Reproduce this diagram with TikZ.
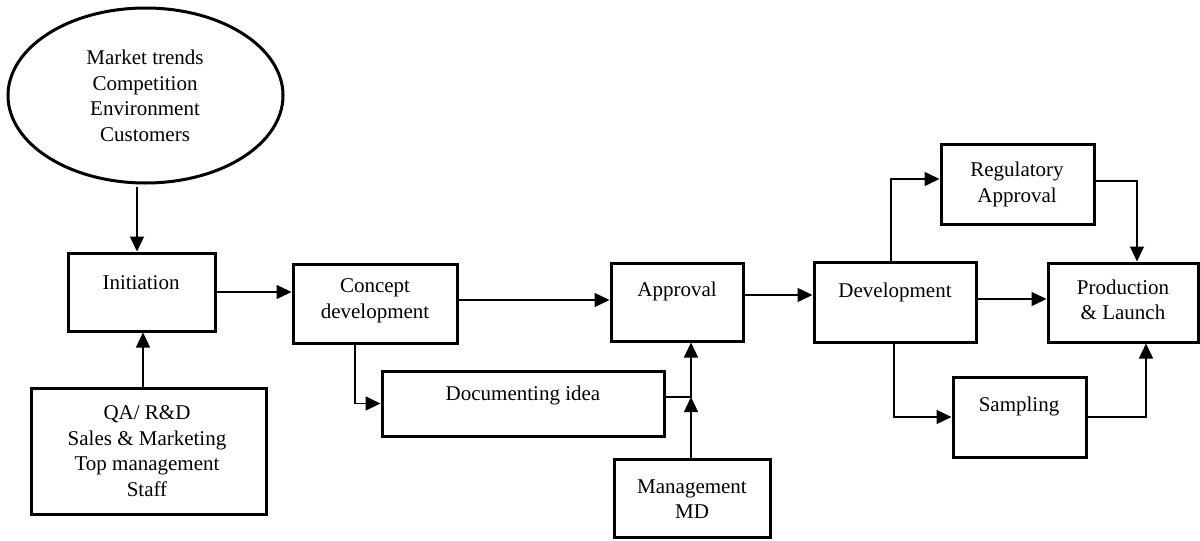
\documentclass[tikz,border=0pt]{standalone}
\usepackage{fontspec}
\setmainfont{Liberation Serif}
\usetikzlibrary{arrows.meta,shapes.geometric}
\begin{document}
\begin{tikzpicture}[x=1pt,y=-1pt,
  box/.style={draw,line width=3pt,rectangle,inner sep=0pt},
  lbl/.style={font=\fontsize{21}{25.5}\selectfont,align=center,inner sep=0pt},
  arr/.style={line width=1.4pt,-{Triangle[length=15pt,width=14pt]}}]
\useasboundingbox (0,0) rectangle (1200,541);

% sources and process boxes
\node[draw,ellipse,line width=3pt,minimum width=275pt,minimum height=175pt,inner sep=0pt] (env) at (145.5,95.5) {};
\node[box,minimum width=147pt,minimum height=78pt] (init) at (141.5,292) {};
\node[box,minimum width=235pt,minimum height=126pt] (qa) at (148.5,451) {};
\node[box,minimum width=164pt,minimum height=79pt] (concept) at (375,303.5) {};
\node[box,minimum width=132pt,minimum height=78pt] (approval) at (677,302) {};
\node[box,minimum width=282pt,minimum height=65pt] (doc) at (523,403.5) {};
\node[box,minimum width=156pt,minimum height=78pt] (mgmt) at (692,498) {};
\node[box,minimum width=162pt,minimum height=80pt] (dev) at (895,302) {};
\node[box,minimum width=153pt,minimum height=80pt] (reg) at (1017.5,184) {};
\node[box,minimum width=150pt,minimum height=79pt] (prod) at (1123,302.5) {};
\node[box,minimum width=133pt,minimum height=80pt] (samp) at (1019.5,417) {};

% labels
\node[lbl] (envT) at (145,96) {Market trends\\Competition\\Environment\\Customers};
\node[lbl] (initT) at (141,283) {Initiation};
\node[lbl] (qaT) at (147,451) {QA/ R\&D\\Sales \& Marketing\\Top management\\Staff};
\node[lbl] (conceptT) at (375,301) {Concept\\development};
\node[lbl] (approvalT) at (677,291) {Approval};
\node[lbl] (docT) at (523,395) {Documenting idea};
\node[lbl] (mgmtT) at (692,499) {Management\\MD};
\node[lbl] (devT) at (895,292) {Development};
\node[lbl] (regT) at (1017,184.5) {Regulatory\\Approval};
\node[lbl] (prodT) at (1123,300) {Production\\\& Launch};
\node[lbl] (sampT) at (1019,406) {Sampling};

% connector bend and start points
\coordinate (a1) at (137,187);
\coordinate (a2) at (143,388);
\coordinate (c1) at (457,300);
\coordinate (c2) at (355,343);
\coordinate (j) at (691,397);
\coordinate (d0) at (743,295);
\coordinate (d1) at (891,262);
\coordinate (d1b) at (891,179);
\coordinate (r1) at (1137,181);
\coordinate (d2) at (976,299);
\coordinate (d3) at (894,342);
\coordinate (s1) at (1146,417);

% connectors
\draw[arr] (a1) -- (a1 |- init.north);
\draw[arr] (a2) -- (a2 |- init.south);
\draw[arr] (init.east) -- (init.east -| concept.west);
\draw[arr] (c1) -- (c1 -| approval.west);
\draw[arr] (c2) |- (doc.west);
\draw[arr] (j -| doc.east) -- (j) -- (j |- approval.south);
\draw[arr] (j |- mgmt.north) -- (j);
\draw[arr] (d0) -- (d0 -| dev.west);
\draw[arr] (d1) -- (d1b) -- (d1b -| reg.west);
\draw[arr] (r1 -| reg.east) -- (r1) -- (r1 |- prod.north);
\draw[arr] (d2) -- (d2 -| prod.west);
\draw[arr] (d3) |- (samp.west);
\draw[arr] (samp.east) -- (s1) -- (s1 |- prod.south);
\end{tikzpicture}
\end{document}
